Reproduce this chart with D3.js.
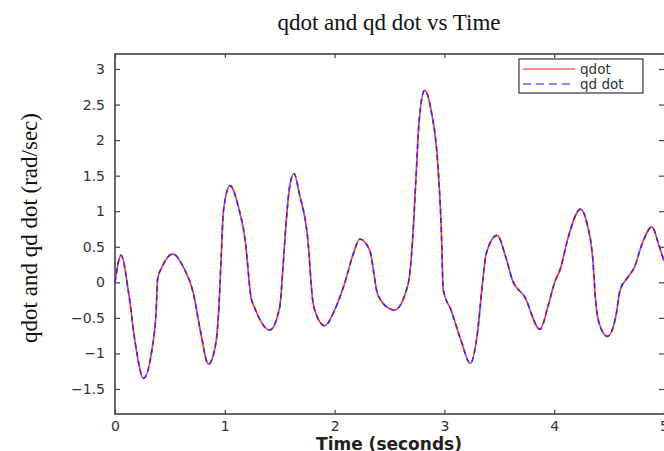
<!DOCTYPE html>
<html>
<head>
<meta charset="utf-8">
<script src="https://cdn.jsdelivr.net/npm/d3@7"></script>
<style>
  html, body { margin: 0; padding: 0; background: #fff; }
  svg { display: block; }
</style>
</head>
<body>
<svg id="chart" width="664" height="451"></svg>
<script>
// data (seconds, rad/sec)
var time = [0, 0.055, 0.125, 0.185, 0.26, 0.336, 0.375, 0.388, 0.427, 0.527, 0.624, 0.715, 0.776, 0.852,
  0.918, 0.948, 0.967, 0.988, 1.048, 1.124, 1.185, 1.24, 1.27, 1.41, 1.5, 1.53, 1.56, 1.59, 1.63,
  1.68, 1.757, 1.8, 1.83, 1.91, 2.0, 2.09, 2.17, 2.23, 2.32, 2.39, 2.42, 2.5, 2.545, 2.67, 2.71,
  2.74, 2.77, 2.82, 2.88, 2.94, 2.97, 2.99, 3.06, 3.15, 3.236, 3.3, 3.35, 3.38, 3.48, 3.56, 3.62,
  3.73, 3.87, 3.95, 4.0, 4.06, 4.12, 4.24, 4.3, 4.35, 4.38, 4.41, 4.485, 4.56, 4.6, 4.67, 4.73,
  4.8, 4.89, 4.95, 5.0];
var qdot = [0.0, 0.38, -0.16, -0.86, -1.35, -0.95, -0.39, 0.05, 0.21, 0.40, 0.21, -0.16, -0.67, -1.15,
  -0.86, -0.3, 0.35, 1.01, 1.36, 1.06, 0.6, -0.22, -0.35, -0.67, -0.35, 0.21, 0.87, 1.34, 1.53,
  1.24, 0.59, -0.25, -0.44, -0.61, -0.39, -0.02, 0.40, 0.61, 0.45, -0.16, -0.25, -0.37, -0.39, -0.02, 0.59,
  1.43, 2.27, 2.7, 2.41, 1.66, 0.82, -0.11, -0.39, -0.81, -1.14, -0.72, 0.03, 0.40, 0.66, 0.35, 0.03,
  -0.2, -0.66, -0.3, -0.02, 0.21, 0.59, 1.03, 0.82, 0.35, -0.3, -0.58, -0.76, -0.49, -0.11, 0.07, 0.21,
  0.54, 0.78, 0.54, 0.3];
// desired velocity sits on top of the measured one
var qdDot = qdot.slice();

var xTicks = [0, 1, 2, 3, 4, 5];
var yTicks = [-1.5, -1, -0.5, 0, 0.5, 1, 1.5, 2, 2.5, 3];
var seriesNames = ["qdot", "qd dot"];

// plot box (note: "top" is taken by window.top)
var plotLeft = 115, plotRight = 664, plotTop = 54, plotBottom = 414;

var svg = d3.select("#chart");

var x = d3.scaleLinear().domain([0, 5]).range([plotLeft, plotRight]);
var y = d3.scaleLinear().domain([-1.5, 3]).range([389, 69]);

var axisColor = "#444";
var tickFont = "'DejaVu Sans', sans-serif";

// frame
svg.append("rect")
    .attr("x", plotLeft).attr("y", plotTop)
    .attr("width", plotRight - plotLeft + 2).attr("height", plotBottom - plotTop)
    .attr("fill", "none")
    .attr("stroke", axisColor)
    .attr("stroke-width", 1.6);

// bottom axis, ticks inside
var xAxis = svg.append("g")
    .attr("transform", "translate(0," + plotBottom + ")")
    .call(d3.axisBottom(x).tickValues(xTicks).tickSize(-4).tickPadding(7).tickFormat(d3.format("d")));
var xAxisTop = svg.append("g")
    .attr("transform", "translate(0," + plotTop + ")")
    .call(d3.axisTop(x).tickValues(xTicks).tickSize(-4).tickFormat(""));

// left axis, ticks inside
var yAxis = svg.append("g")
    .attr("transform", "translate(" + plotLeft + ",0)")
    .call(d3.axisLeft(y).tickValues(yTicks).tickSize(-5).tickPadding(10).tickFormat(d3.format("")));
var yAxisRight = svg.append("g")
    .attr("transform", "translate(" + plotRight + ",0)")
    .call(d3.axisRight(y).tickValues(yTicks).tickSize(-5).tickFormat(""));

[xAxis, xAxisTop, yAxis, yAxisRight].forEach(function (g) {
  g.select(".domain").remove();
  g.selectAll(".tick line").attr("stroke", axisColor).attr("stroke-width", 1.2);
  g.selectAll(".tick text")
      .style("font-family", tickFont)
      .style("font-size", "14px")
      .attr("fill", "#333");
});

// lines
var line = d3.line()
    .x(function (d) { return x(d[0]); })
    .y(function (d) { return y(d[1]); })
    .curve(d3.curveMonotoneX);

svg.append("path")
    .datum(d3.zip(time, qdot))
    .attr("d", line)
    .attr("fill", "none")
    .attr("stroke", "#ff3030")
    .attr("stroke-width", 1.6);

svg.append("path")
    .datum(d3.zip(time, qdDot))
    .attr("d", line)
    .attr("fill", "none")
    .attr("stroke", "#2a2aff")
    .attr("stroke-width", 1.6)
    .attr("stroke-dasharray", "5,4");

// legend
var legend = svg.append("g").attr("transform", "translate(519,59)");
legend.append("rect")
    .attr("width", 124).attr("height", 34)
    .attr("fill", "#fff")
    .attr("stroke", "#333")
    .attr("stroke-width", 1.2);

legend.selectAll("line.key")
    .data(seriesNames)
    .enter().append("line")
    .attr("class", "key")
    .attr("x1", 4).attr("x2", 56)
    .attr("y1", function (d, i) { return 10 + i * 15; })
    .attr("y2", function (d, i) { return 10 + i * 15; })
    .attr("stroke", function (d, i) { return i === 0 ? "#ff6666" : "#6666ff"; })
    .attr("stroke-width", 1.4)
    .attr("stroke-dasharray", function (d, i) { return i === 0 ? null : "8,5"; });

legend.selectAll("text")
    .data(seriesNames)
    .enter().append("text")
    .attr("x", 61)
    .attr("y", function (d, i) { return 10 + i * 15; })
    .attr("dy", "0.35em")
    .style("font-family", tickFont)
    .style("font-size", "13.5px")
    .attr("fill", "#333")
    .text(function (d) { return d; });

// titles
svg.append("text")
    .attr("x", 389).attr("y", 30)
    .attr("text-anchor", "middle")
    .style("font-family", "'Liberation Serif', 'Times New Roman', serif")
    .style("font-size", "23px")
    .attr("fill", "#111")
    .text("qdot and qd dot vs Time");

svg.append("text")
    .attr("transform", "translate(37,228) rotate(-90)")
    .attr("text-anchor", "middle")
    .style("font-family", "'Liberation Serif', 'Times New Roman', serif")
    .style("font-size", "23px")
    .attr("fill", "#111")
    .text("qdot and qd dot (rad/sec)");

svg.append("text")
    .attr("x", 389).attr("y", 450)
    .attr("text-anchor", "middle")
    .style("font-family", tickFont)
    .style("font-size", "17px")
    .style("font-weight", "bold")
    .attr("fill", "#222")
    .text("Time (seconds)");
</script>
</body>
</html>
